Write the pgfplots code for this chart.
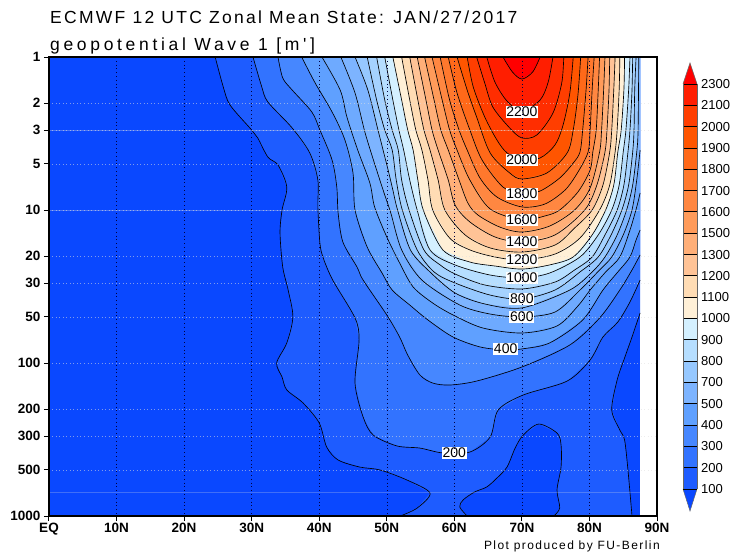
\documentclass[border=0pt]{standalone}
\usepackage{pgfplots}
\pgfplotsset{compat=1.18}
\usepackage{fontspec}
\setmainfont{Liberation Sans}
\newfontfamily\ttla[LetterSpace=13]{Liberation Sans}
\newfontfamily\ttlb[LetterSpace=21]{Liberation Sans}
\newfontfamily\sml[LetterSpace=12]{Liberation Sans}
\definecolor{deep}{RGB}{10,72,255}
\definecolor{L1}{RGB}{30,92,255}
\definecolor{L2}{RGB}{50,115,255}
\definecolor{L3}{RGB}{70,135,255}
\definecolor{L4}{RGB}{95,160,255}
\definecolor{L5}{RGB}{110,170,255}
\definecolor{L6}{RGB}{125,180,255}
\definecolor{L7}{RGB}{150,200,255}
\definecolor{L8}{RGB}{165,210,255}
\definecolor{L9}{RGB}{182,222,255}
\definecolor{L10}{RGB}{212,240,255}
\definecolor{L11}{RGB}{255,240,215}
\definecolor{L12}{RGB}{255,220,180}
\definecolor{L13}{RGB}{255,195,150}
\definecolor{L14}{RGB}{255,175,120}
\definecolor{L15}{RGB}{255,155,90}
\definecolor{L16}{RGB}{255,135,65}
\definecolor{L17}{RGB}{255,120,45}
\definecolor{L18}{RGB}{255,105,25}
\definecolor{L19}{RGB}{255,85,0}
\definecolor{L20}{RGB}{255,62,0}
\definecolor{L21}{RGB}{255,45,0}
\definecolor{L22}{RGB}{255,30,0}
\definecolor{L23}{RGB}{255,0,0}
\newcommand\lev[3]{%
  \addplot[draw=none,fill=#1] coordinates {#2 #3} -- cycle;
  \addplot[black,line width=.65pt,smooth,tension=.5] coordinates {#2};
}
\newcommand\cln[1]{\addplot[black,line width=.65pt,smooth,tension=.5] coordinates {#1};}
\newcommand\clab[3]{\node[fill=white,inner sep=.8pt,font=\fontsize{14}{14}\selectfont] at (axis cs:#1,#2) {#3};}
\begin{document}
\begin{tikzpicture}
\path[use as bounding box] (0,0) rectangle (740pt,560pt);
\begin{axis}[
  at={(49pt,44pt)},anchor=south west,
  scale only axis,width=608pt,height=459pt,
  xmin=0,xmax=90,ymin=0,ymax=3,y dir=reverse,
  axis on top,
  axis line style={line width=1.5pt,black},
  tick align=outside,
  major tick length=5pt,
  tick style={black,line width=1pt},
  xtick={0,10,...,90},
  xticklabels={EQ,10N,20N,30N,40N,50N,60N,70N,80N,90N},
  ytick={0,.30103,.47712,.69897,1,1.30103,1.47712,1.69897,2,2.30103,2.47712,2.69897,3},
  yticklabels={1,2,3,5,10,20,30,50,100,200,300,500,1000},
  xtick pos=bottom,ytick pos=left,
  ticklabel style={font=\bfseries\fontsize{13.5}{14}\selectfont},
  xticklabel style={yshift=1pt},
  grid=major,
  x grid style={black!75!blue,line width=.5pt,dash pattern=on .8pt off 3pt},
  y grid style={white!75!gray,opacity=.55,line width=.6pt,dash pattern=on 1pt off 2.5pt},
]
\addplot[draw=none,fill=deep] coordinates {(0,0)(87.5,0)(87.5,3)(0,3)} -- cycle;
% level 100
\addplot[draw=none,fill=L1] coordinates {(24.6,0)(25.8,.196)(26.8,.314)(30.0,.477)(30.9,.529)(32.4,.654)(33.9,.706)(35.2,.850)(34.5,1.0)(34.2,1.150)(34.6,1.373)(35.4,1.523)(36.1,1.699)(35.2,1.869)(33.7,2.0)(34.5,2.092)(35.2,2.176)(37.6,2.261)(40.0,2.392)(41.1,2.549)(42.8,2.634)(46.0,2.680)(49.0,2.699)(53.0,2.765)(56.4,2.850)(54.5,2.948)(52.0,3)
(61.9,3)(60.8,2.941)(61.3,2.895)(63.0,2.843)(64.8,2.810)(66.3,2.752)(67.8,2.680)(69.0,2.556)(70.2,2.471)(72.5,2.399)(75.2,2.458)(75.8,2.536)(75.8,2.680)(75.2,2.830)(75.6,2.948)(74.7,3)
(86.3,3)(85.7,2.699)(85.2,2.503)(84.5,2.438)(83.3,2.307)(84.1,2.111)(85.2,1.967)(86.3,1.83)(87.5,1.673)(87.5,0)} -- cycle;
\cln{(24.6,0)(25.8,.196)(26.8,.314)(30.0,.477)(30.9,.529)(32.4,.654)(33.9,.706)(35.2,.850)(34.5,1.0)(34.2,1.150)(34.6,1.373)(35.4,1.523)(36.1,1.699)(35.2,1.869)(33.7,2.0)(34.5,2.092)(35.2,2.176)(37.6,2.261)(40.0,2.392)(41.1,2.549)(42.8,2.634)(46.0,2.680)(49.0,2.699)(53.0,2.765)(56.4,2.850)(54.5,2.948)(52.0,3)}
\cln{(61.9,3)(60.8,2.941)(61.3,2.895)(63.0,2.843)(64.8,2.810)(66.3,2.752)(67.8,2.680)(69.0,2.556)(70.2,2.471)(72.5,2.399)(75.2,2.458)(75.8,2.536)(75.8,2.680)(75.2,2.830)(75.6,2.948)(74.7,3)}
\cln{(86.3,3)(85.7,2.699)(85.2,2.503)(84.5,2.438)(83.3,2.307)(84.1,2.111)(85.2,1.967)(86.3,1.83)(87.5,1.673)}
% level 200
\lev{L2}{(30.2,0)(31.5,.196)(32.4,.294)(36.0,.464)(38.6,.627)(39.8,.804)(39.8,.980)(40.1,1.216)(40.6,1.314)(42.0,1.458)(45.3,1.706)(45.9,1.850)(45.3,2.131)(46.5,2.353)(48.0,2.471)(51.5,2.542)(54.9,2.556)(58.3,2.588)(62.3,2.582)(65.3,2.484)(66.5,2.307)(70.2,2.209)(76.7,2.118)(80.1,1.980)(82.0,1.830)(84.2,1.732)(86.0,1.601)(87.5,1.458)}{(87.5,0)}
% level 300
\lev{L3}{(33.9,0)(34.6,.137)(36.0,.216)(38.9,.359)(40.1,.477)(41.9,.673)(42.6,.850)(42.8,1.020)(43.5,1.209)(45.6,1.373)(46.5,1.458)(50.0,1.686)(51.9,1.830)(53.1,1.948)(54.9,2.078)(56.8,2.131)(59.3,2.144)(63.3,2.118)(70.0,2.026)(77.1,1.882)(81.5,1.706)(84.5,1.523)(86.3,1.392)(87.5,1.294)}{(87.5,0)}
% level 400
\lev{L4}{(37.4,0)(39.4,.170)(41.9,.359)(43.8,.542)(45.0,.758)(45.3,1)(47.1,1.242)(49.3,1.412)(50.8,1.523)(53.4,1.621)(56.1,1.719)(59.8,1.830)(63.8,1.895)(67.5,1.915)(70,1.908)(74.1,1.869)(79.0,1.719)(82.0,1.523)(84.2,1.405)(86.0,1.307)(86.9,1.196)(87.5,1.131)}{(87.5,0)}
% level 500
\lev{L5}{(40.4,0)(43.1,.216)(44.1,.392)(45.7,.608)(47.5,.824)(48.2,.980)(50,1.176)(51.9,1.346)(53.9,1.503)(56.8,1.608)(59.8,1.686)(64.2,1.771)(70,1.804)(75.2,1.758)(78.3,1.627)(80.1,1.523)(82.4,1.405)(84.5,1.307)(86,1.131)(87,.980)(87.5,.889)}{(87.5,0)}
% level 600
\lev{L6}{(43.2,0)(45.3,.235)(46.8,.497)(48.5,.739)(49.7,.902)(50.6,1.020)(52.2,1.261)(55.2,1.458)(60.8,1.621)(65.3,1.680)(70,1.699)(74.9,1.667)(78.6,1.523)(81.5,1.392)(83.3,1.307)(85,1.163)(86.3,1)(87,.804)(87.5,.608)}{(87.5,0)}
% level 700
\lev{L7}{(45.3,0)(47.2,.216)(48.7,.477)(50.2,.739)(50.9,.869)(51.6,1)(53.5,1.261)(56.4,1.405)(60.1,1.542)(64.5,1.614)(70,1.640)(77.1,1.523)(80.4,1.405)(82.3,1.307)(84.1,1.163)(85.5,1)(86.4,.837)(87,.621)(87.2,.477)(87.3,0)}{}
% level 800
\lev{L8}{(47.1,0)(48.5,.281)(49.7,.477)(50.8,.608)(51.4,.804)(52.3,1)(54.5,1.261)(57,1.405)(60.1,1.477)(65.3,1.556)(70,1.582)(74.9,1.523)(78.6,1.405)(81.3,1.307)(83.2,1.163)(84.8,1)(85.8,.837)(86.4,.621)(86.6,.477)(86.7,.216)(86.9,0)}{}
% level 900
\lev{L9}{(48.5,0)(49.7,.281)(50.8,.477)(51.7,.608)(52.2,.804)(53.3,1)(55.5,1.261)(57.9,1.359)(60.1,1.418)(64.5,1.490)(70,1.516)(74.9,1.471)(77.8,1.392)(80.4,1.307)(82.3,1.163)(84.1,1)(85.1,.837)(85.7,.621)(86,.477)(86.3,.216)(86.4,0)}{}
% level 1000
\lev{L10}{(49.7,0)(50.9,.281)(51.8,.477)(52.5,.608)(53.4,.804)(54.5,1)(56.4,1.261)(60.1,1.359)(65.3,1.425)(70,1.444)(74.1,1.412)(78.6,1.307)(81.3,1.163)(83.3,1)(84.4,.837)(85,.621)(85.4,.477)(85.8,.216)(86,0)}{}
% level 1100
\lev{L11}{(50.9,0)(52.2,.281)(53.1,.477)(53.9,.608)(54.6,.804)(55.4,1)(58.3,1.261)(62.3,1.340)(66,1.366)(70,1.386)(74.1,1.359)(77.6,1.307)(80.4,1.163)(82.4,1)(83.6,.837)(84.2,.621)(84.7,.477)(85.1,.216)(85.2,0)}{}
% level 1200
\lev{L12}{(52.2,0)(53.4,.281)(54.3,.477)(55.2,.608)(56.1,.804)(56.8,1)(59.3,1.183)(62.3,1.261)(66,1.307)(70,1.327)(74.9,1.288)(78.6,1.183)(81.5,1)(83,.837)(83.8,.621)(84.1,.477)(84.4,.216)(84.5,0)}{}
% level 1300
\lev{L13}{(53.4,0)(54.6,.281)(55.5,.477)(56.4,.608)(57.6,.804)(58.6,1)(61.6,1.163)(65.3,1.248)(70,1.275)(74.9,1.229)(77.8,1.118)(80.4,1)(82,.837)(83,.621)(83.3,.477)(83.6,.216)(83.8,0)}{}
% level 1400
\lev{L14}{(54.5,0)(55.8,.281)(56.7,.477)(57.6,.608)(59.1,.804)(60.1,.967)(62.3,1.078)(66,1.176)(70,1.209)(74.9,1.163)(79.3,1)(81.1,.837)(82.3,.621)(82.6,.477)(82.9,.216)(83,0)}{}
% level 1500
\lev{L15}{(55.6,0)(57,.281)(58,.477)(59.1,.608)(60.7,.804)(62,.954)(63.5,1.033)(66.7,1.111)(70,1.144)(74.1,1.105)(77.8,1)(80.1,.856)(81.5,.621)(81.8,.477)(82.1,.216)(82.3,0)}{}
% level 1600
\lev{L16}{(56.7,0)(58.2,.281)(59.3,.477)(60.4,.608)(62.3,.804)(65.3,.993)(70,1.065)(73.4,1.039)(75.6,1)(78.3,.882)(80.1,.739)(80.5,.621)(81,.477)(81.3,.216)(81.5,0)}{}
% level 1700
\lev{L17}{(57.9,0)(59.3,.281)(60.7,.477)(61.9,.608)(63.8,.791)(66.3,.915)(70,.980)(73.4,.961)(76.4,.869)(78.3,.752)(79.8,.621)(80.1,.477)(80.4,.216)(80.7,0)}{}
% level 1800
\lev{L18}{(59.1,0)(60.4,.235)(62.3,.477)(64.1,.673)(67.2,.850)(70,.895)(72.7,.876)(75.6,.791)(77.6,.693)(78.6,.621)(79,.477)(79.5,.216)(79.8,0)}{}
% level 1900
\lev{L19}{(60.4,0)(61.9,.216)(63.3,.392)(65.3,.627)(68.2,.758)(70,.797)(73.7,.758)(76.7,.627)(77.6,.477)(78.3,.248)(78.7,0)}{}
% level 2000
\lev{L20}{(61.9,0)(62.8,.196)(64.5,.392)(66.3,.542)(67.8,.627)(70,.673)(72.7,.660)(74.9,.575)(76.1,.444)(77.1,.235)(77.6,0)}{}
% level 2100
\lev{L21}{(63.3,0)(64.5,.170)(65.7,.327)(68.2,.464)(70,.529)(72.2,.510)(74.6,.366)(75.9,.170)(76.2,0)}{}
% level 2200
\lev{L22}{(64.8,0)(66,.163)(67.8,.288)(70,.353)(72.7,.281)(73.9,.163)(74.6,0)}{}
% level 2300
\lev{L23}{(67.2,0)(68.6,.098)(70,.144)(71.6,.098)(72.7,0)}{}
% pale stronger lines
\addplot[white!80!gray,opacity=.3,line width=.7pt] coordinates {(0,.47712)(87.5,.47712)};
\addplot[white!80!gray,opacity=.3,line width=.7pt] coordinates {(0,1)(87.5,1)};
\addplot[white!80!gray,opacity=.25,line width=.7pt] coordinates {(0,2.845)(87.5,2.845)};
\clab{70}{.36}{2200}
\clab{70}{.673}{2000}
\clab{70}{.895}{1800}
\clab{70}{1.065}{1600}
\clab{70}{1.209}{1400}
\clab{70}{1.327}{1200}
\clab{70}{1.444}{1000}
\clab{70}{1.582}{800}
\clab{70}{1.699}{600}
\clab{67.6}{1.908}{400}
\clab{60}{2.588}{200}
\end{axis}
% titles
\node[anchor=base west,inner sep=0pt,font=\ttla\fontsize{17.5}{18}\selectfont] at (50pt,536pt) {ECMWF 12 UTC Zonal Mean State: JAN/27/2017};
\node[anchor=base west,inner sep=0pt,font=\ttlb\fontsize{17.5}{18}\selectfont] at (50pt,509pt) {geopotential Wave 1 [m']};
\node[anchor=base east,inner sep=0pt,font=\sml\fontsize{12}{12}\selectfont] at (660pt,10pt) {Plot produced by FU-Berlin};
% colour bar
\fill[L23] (683pt,476pt) -- (697pt,476pt) -- (690pt,497pt) -- cycle;
\fill[deep] (683pt,71pt) -- (697pt,71pt) -- (690pt,49pt) -- cycle;
\draw[black!60,line width=.5pt] (683pt,476pt) -- (690pt,497pt) -- (697pt,476pt);
\draw[black!60,line width=.5pt] (683pt,71pt) -- (690pt,49pt) -- (697pt,71pt);
\foreach \i/\colr/\txt in {0/L22/2300,1/L20/2100,2/L19/2000,3/L18/1900,4/L17/1800,5/L16/1700,6/L15/1600,7/L14/1500,8/L13/1300,9/L12/1200,10/L11/1100,11/L10/1000,12/L9/900,13/L7/800,14/L6/700,15/L4/500,16/L3/400,17/L2/300,18/L1/200}{
  \pgfmathsetmacro\ya{476-21.32*\i}
  \pgfmathsetmacro\yb{476-21.32*(\i+1)}
  \fill[\colr] (683pt,\ya pt) rectangle (697pt,\yb pt);
  \draw[black,line width=.9pt] (683pt,\ya pt) -- (697pt,\ya pt);
  \node[anchor=west,inner sep=0pt,font=\fontsize{13}{13}\selectfont] at (701pt,\ya pt) {\txt};
}
\draw[black,line width=.9pt] (683pt,71pt) -- (697pt,71pt);
\draw[black!60,line width=.5pt] (683pt,71pt) -- (683pt,476pt) (697pt,71pt) -- (697pt,476pt);
\node[anchor=west,inner sep=0pt,font=\fontsize{13}{13}\selectfont] at (701pt,71pt) {100};
\end{tikzpicture}
\end{document}
